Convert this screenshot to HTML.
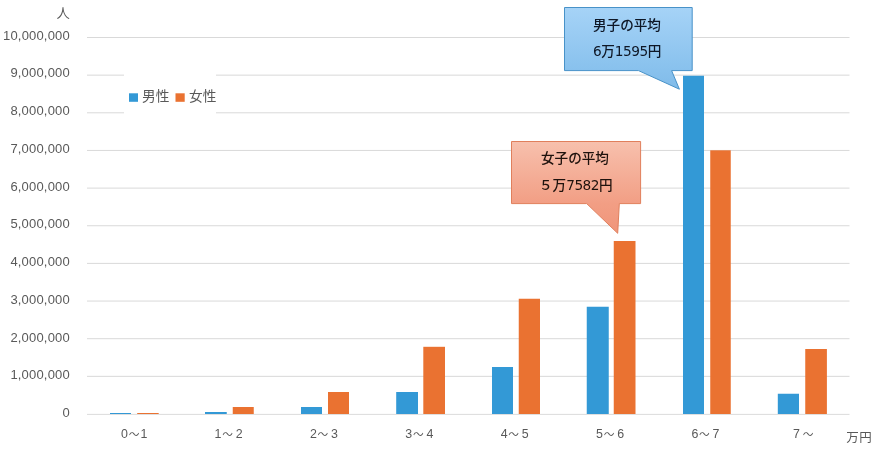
<!DOCTYPE html>
<html lang="ja"><head><meta charset="utf-8"><title>chart</title>
<style>
html,body{margin:0;padding:0;background:#fff;}
body{width:886px;height:451px;overflow:hidden;}
svg{display:block;}
text{font-family:"Liberation Sans","Noto Sans CJK JP",sans-serif;}
.ax{font-size:13px;fill:#595959;letter-spacing:0.18px;}
.cat{font-size:12.4px;fill:#595959;}
.wv{font-size:10.7px;}
.lg{font-size:13.7px;fill:#595959;}
.cb{font-size:13.6px;font-weight:500;}
.dg{font-family:"DejaVu Sans","Liberation Sans",sans-serif;font-size:13.7px;font-weight:400;letter-spacing:-0.5px;}
</style></head><body>
<svg width="886" height="451" viewBox="0 0 886 451">
<defs>
<linearGradient id="gb" x1="0" y1="0" x2="0" y2="1"><stop offset="0" stop-color="#a6d3f7"/><stop offset="0.77" stop-color="#88c1ed"/><stop offset="1" stop-color="#80bbe9"/></linearGradient>
<linearGradient id="go" x1="0" y1="0" x2="0" y2="1"><stop offset="0" stop-color="#f7c0ad"/><stop offset="0.68" stop-color="#f29e84"/><stop offset="1" stop-color="#f0957a"/></linearGradient>
</defs>
<rect width="886" height="451" fill="#fff"/>

<line x1="87" x2="849.5" y1="414.4" y2="414.4" stroke="#d2d2d2" stroke-width="0.8"/>
<text class="ax" x="69.9" y="417.00" text-anchor="end">0</text>
<line x1="87" x2="849.5" y1="376.35" y2="376.35" stroke="#d9d9d9" stroke-width="1"/>
<text class="ax" x="69.9" y="379.00" text-anchor="end">1,000,000</text>
<line x1="87" x2="849.5" y1="338.70" y2="338.70" stroke="#d9d9d9" stroke-width="1"/>
<text class="ax" x="69.9" y="342.00" text-anchor="end">2,000,000</text>
<line x1="87" x2="849.5" y1="301.05" y2="301.05" stroke="#d9d9d9" stroke-width="1"/>
<text class="ax" x="69.9" y="304.00" text-anchor="end">3,000,000</text>
<line x1="87" x2="849.5" y1="263.40" y2="263.40" stroke="#d9d9d9" stroke-width="1"/>
<text class="ax" x="69.9" y="266.00" text-anchor="end">4,000,000</text>
<line x1="87" x2="849.5" y1="225.75" y2="225.75" stroke="#d9d9d9" stroke-width="1"/>
<text class="ax" x="69.9" y="228.00" text-anchor="end">5,000,000</text>
<line x1="87" x2="849.5" y1="188.10" y2="188.10" stroke="#d9d9d9" stroke-width="1"/>
<text class="ax" x="69.9" y="191.00" text-anchor="end">6,000,000</text>
<line x1="87" x2="849.5" y1="150.45" y2="150.45" stroke="#d9d9d9" stroke-width="1"/>
<text class="ax" x="69.9" y="153.00" text-anchor="end">7,000,000</text>
<line x1="87" x2="849.5" y1="112.80" y2="112.80" stroke="#d9d9d9" stroke-width="1"/>
<text class="ax" x="69.9" y="115.00" text-anchor="end">8,000,000</text>
<line x1="87" x2="849.5" y1="75.15" y2="75.15" stroke="#d9d9d9" stroke-width="1"/>
<text class="ax" x="69.9" y="77.00" text-anchor="end">9,000,000</text>
<line x1="87" x2="849.5" y1="37.50" y2="37.50" stroke="#d9d9d9" stroke-width="1"/>
<text class="ax" x="69.9" y="40.00" text-anchor="end">10,000,000</text>
<rect x="124" y="66" width="92" height="50" fill="#fff"/>
<rect x="129" y="93.3" width="9" height="8.5" fill="#3399d6"/>
<text class="lg" x="142" y="100.6">男性</text>
<rect x="175.5" y="93.3" width="9.2" height="8.5" fill="#ea7231"/>
<text class="lg" x="189" y="100.6">女性</text>
<text class="cat" x="63.1" y="17.6" text-anchor="middle" style="font-size:13.3px">人</text>
<rect x="110" y="413" width="21.00" height="1.00" fill="#3399d6"/>
<rect x="137.2" y="413" width="21.50" height="1.00" fill="#ea7231"/>
<rect x="205" y="412" width="21.75" height="2.00" fill="#3399d6"/>
<rect x="232.75" y="407" width="21.00" height="7.00" fill="#ea7231"/>
<rect x="301" y="407" width="21.00" height="7.00" fill="#3399d6"/>
<rect x="328" y="392" width="21.00" height="22.00" fill="#ea7231"/>
<rect x="396.2" y="392" width="21.80" height="22.00" fill="#3399d6"/>
<rect x="423.3" y="346.8" width="21.70" height="67.20" fill="#ea7231"/>
<rect x="492" y="367" width="21.00" height="47.00" fill="#3399d6"/>
<rect x="518.75" y="298.75" width="21.25" height="115.25" fill="#ea7231"/>
<rect x="586.75" y="306.75" width="22.00" height="107.25" fill="#3399d6"/>
<rect x="613.75" y="241" width="21.75" height="173.00" fill="#ea7231"/>
<rect x="683" y="75.75" width="21.00" height="338.25" fill="#3399d6"/>
<rect x="710.25" y="150.3" width="20.50" height="263.70" fill="#ea7231"/>
<rect x="777.8" y="393.75" width="21.20" height="20.25" fill="#3399d6"/>
<rect x="805.25" y="349" width="21.65" height="65.00" fill="#ea7231"/>
<text class="cat" y="438"><tspan x="120.99">0</tspan><tspan class="wv" x="128.76">～</tspan><tspan x="140.49">1</tspan></text>
<text class="cat" y="438"><tspan x="214.56">1</tspan><tspan class="wv" x="222.13">～</tspan><tspan x="235.66">2</tspan></text>
<text class="cat" y="438"><tspan x="309.94">2</tspan><tspan class="wv" x="317.51">～</tspan><tspan x="331.04">3</tspan></text>
<text class="cat" y="438"><tspan x="405.31">3</tspan><tspan class="wv" x="412.88">～</tspan><tspan x="426.41">4</tspan></text>
<text class="cat" y="438"><tspan x="500.69">4</tspan><tspan class="wv" x="508.26">～</tspan><tspan x="521.79">5</tspan></text>
<text class="cat" y="438"><tspan x="596.06">5</tspan><tspan class="wv" x="603.63">～</tspan><tspan x="617.16">6</tspan></text>
<text class="cat" y="438"><tspan x="691.44">6</tspan><tspan class="wv" x="699.01">～</tspan><tspan x="712.54">7</tspan></text>
<text class="cat" y="438"><tspan x="792.91">7</tspan><tspan class="wv" x="802.68">～</tspan></text>
<text class="cat" x="859.2" y="442" text-anchor="middle" style="font-size:12.5px;letter-spacing:0.5px">万円</text>
<path d="M564.5 7.5H692.2V70.6H671.6L679.4 89.2L638.5 70.6H564.5Z" fill="url(#gb)" stroke="#4892c8" stroke-width="1"/>
<text class="cb" x="593" y="29.7" fill="#0e1726">男子の平均</text>
<text class="cb" x="593" y="56" fill="#0e1726"><tspan class="dg">6</tspan>万<tspan class="dg">1595</tspan>円</text>
<path d="M511.5 141.5H640.6V203.6H619.3L617.7 233.3L586.7 203.6H511.5Z" fill="url(#go)" stroke="#e07f5c" stroke-width="1"/>
<text class="cb" x="541" y="163.2" fill="#1f120d">女子の平均</text>
<text class="cb" x="539" y="189.6" fill="#1f120d">５万<tspan class="dg">7582</tspan>円</text>
</svg></body></html>
